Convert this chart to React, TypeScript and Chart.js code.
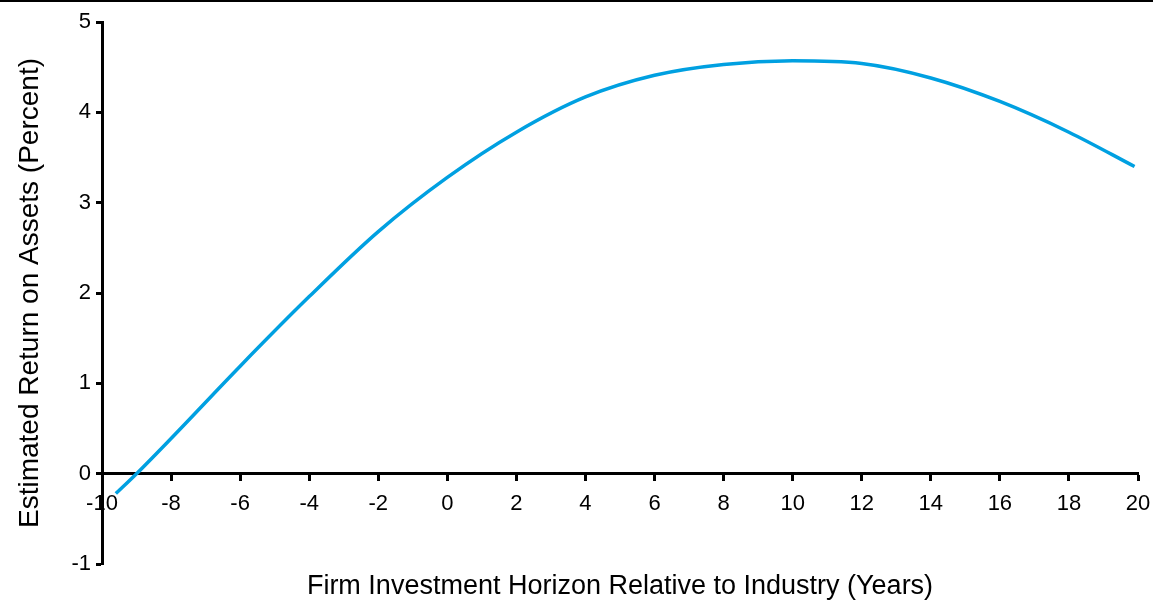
import React, { useEffect, useRef } from "react";
import { Chart, registerables } from "chart.js";

Chart.register(...registerables);

const horizonYears = [-9.6, -9, -8, -6, -4, -2, 0, 2, 4, 6, 8, 10, 12, 14, 16, 18, 19.9];
const returnOnAssets = [-0.22, 0.0, 0.39, 1.19, 1.96, 2.68, 3.28, 3.78, 4.17, 4.41, 4.53, 4.57, 4.54, 4.38, 4.12, 3.78, 3.4];
const xTitle = "Firm Investment Horizon Relative to Industry (Years)";
const yTitle = "Estimated Return on Assets (Percent)";
const xRange = [-10, 20];
const yRange = [-1, 5];

const FONT = "'Liberation Sans', Arial, sans-serif";

export default function App() {
  const ref = useRef<HTMLCanvasElement | null>(null);
  useEffect(() => {
    if (!ref.current) return;
    const points = horizonYears.map((x, i) => ({ x, y: returnOnAssets[i] }));
    const chart = new Chart(ref.current, {
      type: "line",
      data: {
        datasets: [
          {
            data: points,
            borderColor: "rgb(0,160,225)",
            borderWidth: 3.5,
            pointRadius: 0,
            fill: false,
            cubicInterpolationMode: "monotone",
            xAxisID: "x",
            yAxisID: "y",
          },
        ],
      },
      options: {
        animation: false,
        responsive: false,
        layout: { padding: { top: 20, right: 15, bottom: 0, left: 0 } },
        plugins: { legend: { display: false }, tooltip: { enabled: false } },
        scales: {
          x: {
            type: "linear",
            min: xRange[0],
            max: xRange[1],
            position: { y: 0 },
            afterFit: (s: any) => {
              s.height = 0;
              s.paddingLeft = 0;
              s.paddingRight = 0;
            },
            ticks: {
              stepSize: 2,
              autoSkip: false,
              maxRotation: 0,
              color: "#000",
              padding: 11,
              font: { family: FONT, size: 22 },
            },
            grid: {
              display: true,
              drawOnChartArea: false,
              drawTicks: true,
              tickLength: 6,
              tickWidth: 3,
              tickColor: "#000",
            },
            border: { display: true, color: "#000", width: 3 },
          },
          x2: {
            type: "linear",
            min: xRange[0],
            max: xRange[1],
            position: "bottom",
            afterFit: (s: any) => {
              s.height = 36;
              s.paddingLeft = 0;
              s.paddingRight = 0;
            },
            ticks: { display: false },
            grid: { display: false, drawTicks: false },
            border: { display: false },
            title: {
              display: true,
              text: xTitle,
              color: "#000",
              padding: 0,
              font: { family: FONT, size: 27, lineHeight: 1 },
            },
          },
          y: {
            type: "linear",
            min: yRange[0],
            max: yRange[1],
            position: "left",
            afterFit: (s: any) => {
              s.width = 102;
            },
            ticks: {
              stepSize: 1,
              color: "#000",
              padding: 5,
              font: { family: FONT, size: 22 },
            },
            grid: {
              display: true,
              drawOnChartArea: false,
              drawTicks: true,
              tickLength: 6,
              tickWidth: 3,
              tickColor: "#000",
            },
            border: { display: true, color: "#000", width: 3 },
            title: {
              display: true,
              text: yTitle,
              color: "#000",
              padding: { top: 13, bottom: 0 },
              font: { family: FONT, size: 28 },
            },
          },
        },
      },
    });
    return () => chart.destroy();
  }, []);
  return (
    <div
      style={{
        position: "absolute",
        left: 0,
        top: 0,
        width: 1153,
        height: 600,
        boxSizing: "border-box",
        borderTop: "2px solid #000",
        background: "#fff",
      }}
    >
      <canvas ref={ref} width={1153} height={598} style={{ display: "block", width: 1153, height: 598 }} />
    </div>
  );
}
